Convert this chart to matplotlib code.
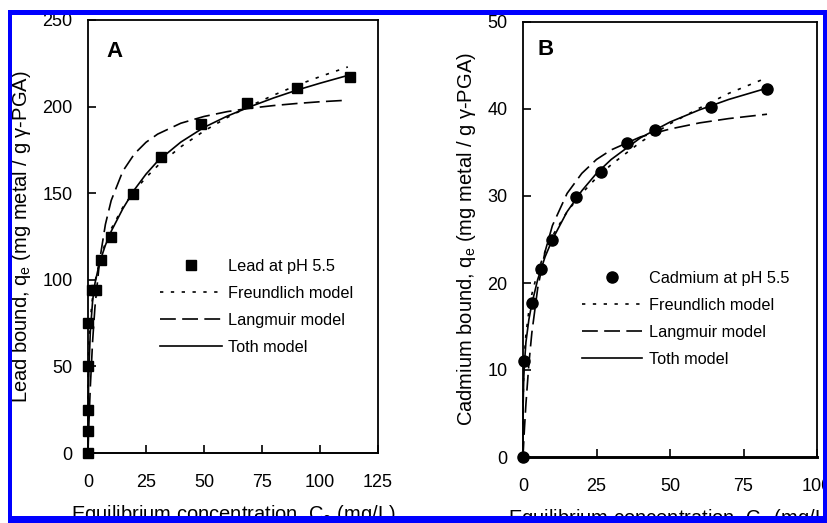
import matplotlib
matplotlib.use('Agg')
import matplotlib.pyplot as plt
from matplotlib.patches import Rectangle
from matplotlib.lines import Line2D

plt.rcParams['font.family'] = ['Liberation Sans', 'DejaVu Sans']
plt.rcParams['mathtext.fontset'] = 'custom'
plt.rcParams['mathtext.rm'] = 'Liberation Sans'
plt.rcParams['mathtext.it'] = 'Liberation Sans:italic'

# ---------------- Panel A: lead ----------------
lead_ce = [0, 0, 0, 0, 0, 1.7, 3.4, 5.5, 9.9, 19.5, 31.4, 48.7, 68.7, 90.0, 112.8]
lead_qe = [0, 12.5, 25, 50, 75, 94, 94, 111.4, 124.8, 149.4, 170.8, 190.2, 202.3, 210.8, 217.3]

lead_model_ce = [0, 0.05, 0.25, 0.5, 1, 2, 3, 5, 7.5, 10, 15, 20, 25, 30, 40, 50, 60, 70, 80, 90, 100, 112]
lead_freundlich = [0, 39.3, 56.4, 66.0, 77.1, 90.1, 98.7, 110.7, 121.4, 129.4, 141.8, 151.3, 159.1,
                   165.8, 176.8, 185.9, 193.7, 200.5, 206.6, 212.3, 217.3, 222.9]
lead_langmuir = [0, 2.3, 11.1, 21.0, 38.2, 64.8, 84.3, 111.0, 132.0, 145.8, 162.7, 172.7, 179.4,
                 184.1, 190.4, 194.3, 197.1, 199.1, 200.6, 201.8, 202.8, 203.7]
lead_toth = [0, 20, 40, 52, 70, 88, 98, 110, 120, 128, 141, 152, 161, 168.5, 179.5, 188, 194.5,
             200, 205, 209.5, 213.5, 218]

lead_xticks = [0, 25, 50, 75, 100, 125]
lead_yticks = [0, 50, 100, 150, 200, 250]

# ---------------- Panel B: cadmium ----------------
cd_ce = [0, 0.3, 3.0, 6.2, 9.8, 18.1, 26.5, 35.5, 44.9, 63.8, 83.0]
cd_qe = [0, 11.0, 17.7, 21.6, 24.9, 29.9, 32.8, 36.1, 37.6, 40.2, 42.3]

cd_model_ce = [0, 0.05, 0.25, 0.5, 1, 2, 3, 5, 7.5, 10, 15, 20, 25, 30, 40, 50, 60, 70, 83]
cd_freundlich = [0, 6.5, 9.9, 11.8, 14.1, 16.8, 18.7, 21.3, 23.6, 25.4, 28.2, 30.3, 32.1, 33.6,
                 36.2, 38.3, 40.1, 41.8, 43.6]
cd_langmuir = [0, 0.36, 1.72, 3.31, 6.13, 10.7, 14.25, 19.4, 23.6, 26.6, 30.3, 32.6, 34.2, 35.3,
               36.8, 37.7, 38.4, 38.9, 39.4]
cd_toth = [0, 6, 9, 10.8, 13.2, 15.8, 17.6, 20.4, 23.0, 25.0, 28.2, 30.6, 32.6, 34.2, 36.7, 38.5,
           39.9, 41.1, 42.4]

cd_xticks = [0, 25, 50, 75, 100]
cd_yticks = [0, 10, 20, 30, 40, 50]

W, H = 828, 523
fig = plt.figure(figsize=(W / 100, H / 100), dpi=100)
fig.patch.set_facecolor('white')


def px_axes(l, t, r, b):
    return fig.add_axes([l / W, (H - b) / H, (r - l) / W, (b - t) / H])


DOT = (0, (2.0, 4.5))
DASH = (0, (9.5, 3.8))
LW = 1.2

def style_panel(ax, xlim, ylim, xticks, yticks, xlabel, ylabel, letter, letter_pos, bottom_lw):
    ax.set_xlim(*xlim)
    ax.set_ylim(*ylim)
    ax.set_xticks(xticks)
    ax.set_yticks(yticks)
    for s in ax.spines.values():
        s.set_linewidth(1.3)
    ax.spines['bottom'].set_linewidth(bottom_lw)
    ax.tick_params(axis='both', direction='in', length=6, width=1.2, labelsize=13)
    ax.tick_params(axis='y', pad=11)
    ax.tick_params(axis='x', pad=15)
    ax.set_xlabel(xlabel, fontsize=14.5, labelpad=9)
    ax.set_ylabel(ylabel, fontsize=14.5, labelpad=7)
    ax.text(letter_pos[0], letter_pos[1], letter, transform=ax.transAxes, fontsize=16,
            fontweight='bold', ha='left', va='center')


def legend_panel(ax, marker, label0, anchor, hl):
    handles = [
        Line2D([], [], linestyle='none', marker=marker, ms=7.5 if marker == 's' else 8, color='black'),
        Line2D([], [], color='black', lw=LW, linestyle=DOT),
        Line2D([], [], color='black', lw=LW, linestyle=DASH),
        Line2D([], [], color='black', lw=LW, linestyle='-'),
    ]
    labels = [label0, 'Freundlich model', 'Langmuir model', 'Toth model']
    ax.legend(handles, labels, loc='upper left', bbox_to_anchor=anchor, frameon=False,
              fontsize=11.7, borderpad=0, borderaxespad=0, handlelength=hl, handletextpad=0.4,
              labelspacing=0.75)


# Panel A
axA = px_axes(88, 20, 378, 453)
axA.plot(lead_model_ce, lead_freundlich, color='black', lw=LW, linestyle=DOT, clip_on=False)
axA.plot(lead_model_ce, lead_langmuir, color='black', lw=LW, linestyle=DASH, clip_on=False)
axA.plot(lead_model_ce, lead_toth, color='black', lw=LW, linestyle='-', clip_on=False)
axA.plot(lead_ce, lead_qe, linestyle='none', marker='s', ms=7.5, color='black', clip_on=False, zorder=5)
style_panel(axA, (0, 125), (0, 250), lead_xticks, lead_yticks,
            'Equilibrium concentration, C$_\\mathregular{e}$ (mg/L)',
            'Lead bound, q$_\\mathregular{e}$ (mg metal / g γ-PGA)', 'A', (0.062, 0.928), 1.4)
legend_panel(axA, 's', 'Lead at pH 5.5', (0.248, 0.449), 3.8)

# Panel B
axB = px_axes(523, 22, 817, 457)
axB.plot(cd_model_ce, cd_freundlich, color='black', lw=LW, linestyle=DOT, clip_on=False)
axB.plot(cd_model_ce, cd_langmuir, color='black', lw=LW, linestyle=DASH, clip_on=False)
axB.plot(cd_model_ce, cd_toth, color='black', lw=LW, linestyle='-', clip_on=False)
axB.plot(cd_ce, cd_qe, linestyle='none', marker='o', ms=8, color='black', clip_on=False, zorder=5)
style_panel(axB, (0, 100), (0, 50), cd_xticks, cd_yticks,
            'Equilibrium concentration, C$_\\mathregular{e}$ (mg/L)',
            'Cadmium bound, q$_\\mathregular{e}$ (mg metal / g γ-PGA)', 'B', (0.051, 0.936), 2.1)
legend_panel(axB, 'o', 'Cadmium at pH 5.5', (0.2007, 0.4287), 3.7)

# Blue frame around the figure (drawn on top)
blue = '#0000FF'
def band(x0, y0, x1, y1):
    fig.add_artist(Rectangle((x0 / W, (H - y1) / H), (x1 - x0) / W, (y1 - y0) / H,
                             transform=fig.transFigure, facecolor=blue, edgecolor='none',
                             zorder=100))

band(8, 10, 828, 14.5)     # top
band(8, 10, 12.5, 523)     # left
band(823, 10, 828, 523)    # right
band(8, 516, 828, 523)     # bottom

fig.savefig('out.png', dpi=100, facecolor='white')
